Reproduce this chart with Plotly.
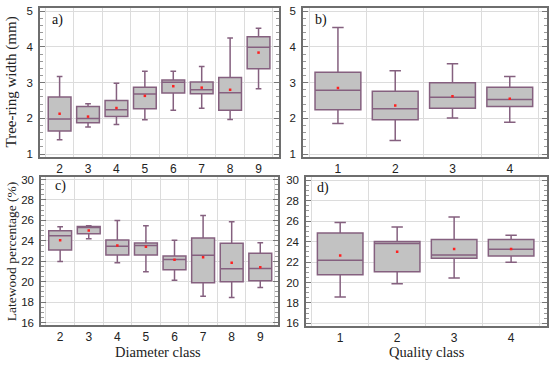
import plotly.graph_objects as go

# ---- data ----
diam_classes = [2, 3, 4, 5, 6, 7, 8, 9]
qual_classes = [1, 2, 3, 4]

# a) tree-ring width by diameter class (mm)
a_low = [1.40, 1.76, 1.83, 1.96, 2.23, 2.28, 1.97, 2.83]
a_q1 = [1.65, 1.88, 2.05, 2.27, 2.71, 2.69, 2.23, 3.39]
a_med = [1.98, 2.00, 2.24, 2.68, 3.01, 2.80, 2.72, 3.99]
a_q3 = [2.60, 2.33, 2.50, 2.87, 3.07, 3.02, 3.14, 4.28]
a_up = [3.17, 2.41, 2.98, 3.32, 3.32, 3.45, 4.25, 4.52]
a_mean = [2.13, 2.05, 2.29, 2.63, 2.90, 2.86, 2.80, 3.84]

# b) tree-ring width by quality class (mm)
b_low = [1.86, 1.38, 2.01, 1.89]
b_q1 = [2.24, 1.96, 2.28, 2.33]
b_med = [2.79, 2.27, 2.59, 2.53]
b_q3 = [3.29, 2.76, 3.00, 2.87]
b_up = [4.54, 3.33, 3.53, 3.17]
b_mean = [2.85, 2.36, 2.62, 2.55]

# c) latewood percentage by diameter class (%)
c_low = [21.97, 24.21, 21.84, 20.97, 20.13, 18.58, 18.45, 19.42]
c_q1 = [23.11, 24.69, 22.62, 22.62, 21.17, 19.90, 20.00, 20.10]
c_med = [24.50, 25.34, 23.46, 23.53, 22.17, 22.59, 21.26, 21.29]
c_q3 = [24.98, 25.40, 24.08, 23.79, 22.52, 24.27, 23.75, 22.78]
c_up = [25.37, 25.47, 25.99, 25.47, 24.05, 26.47, 25.86, 23.82]
c_mean = [24.05, 25.02, 23.53, 23.43, 22.14, 22.39, 21.84, 21.42]

# d) latewood percentage by quality class (%)
d_low = [18.59, 19.87, 20.45, 21.99]
d_q1 = [20.77, 21.06, 22.37, 22.60]
d_med = [22.18, 23.81, 22.69, 23.24]
d_q3 = [24.84, 24.00, 24.20, 24.20]
d_up = [25.87, 25.42, 26.41, 24.62]
d_mean = [22.63, 23.01, 23.27, 23.27]

panel_labels = ["a)", "b)", "c)", "d)"]
y_titles = ["Tree-ring width (mm)", "Latewood percentage (%)"]
x_titles = ["Diameter class", "Quality class"]

# ---- style ----
W, H = 550, 366
BOX_FILL = "#c2c2c2"
BOX_LINE = "#85607f"
GRID = "#dcdcdc"
FRAME = "#6e6e6e"
SERIF = "Liberation Serif, Times New Roman, serif"
SANS = "Liberation Sans, Arial, sans-serif"

def px_dom_x(a, b):
    return [a / W, b / W]

def px_dom_y(top, bottom):
    return [1 - bottom / H, 1 - top / H]

panels = [
    dict(cats=diam_classes, low=a_low, q1=a_q1, med=a_med, q3=a_q3, up=a_up, mean=a_mean,
         xd=px_dom_x(40, 279), yd=px_dom_y(5, 157), xr=[1.31, 9.72], yr=[0.92, 5.09],
         dtick=1, minor=0.2),
    dict(cats=qual_classes, low=b_low, q1=b_q1, med=b_med, q3=b_q3, up=b_up, mean=b_mean,
         xd=px_dom_x(303, 547), yd=px_dom_y(5, 157), xr=[0.39, 4.65], yr=[0.92, 5.09],
         dtick=1, minor=0.2),
    dict(cats=diam_classes, low=c_low, q1=c_q1, med=c_med, q3=c_q3, up=c_up, mean=c_mean,
         xd=px_dom_x(41, 278), yd=px_dom_y(177, 328), xr=[1.33, 9.62], yr=[15.78, 30.29],
         dtick=2, minor=0.5),
    dict(cats=qual_classes, low=d_low, q1=d_q1, med=d_med, q3=d_q3, up=d_up, mean=d_mean,
         xd=px_dom_x(306, 547), yd=px_dom_y(177, 329), xr=[0.40, 4.63], yr=[15.78, 30.35],
         dtick=2, minor=0.5),
]

fig = go.Figure()
layout = {}
for i, p in enumerate(panels):
    n = "" if i == 0 else str(i + 1)
    xa, ya = "x" + n, "y" + n
    fig.add_trace(go.Box(
        x=p["cats"], q1=p["q1"], median=p["med"], q3=p["q3"],
        lowerfence=p["low"], upperfence=p["up"],
        width=0.8, whiskerwidth=0.25, fillcolor=BOX_FILL,
        line=dict(color=BOX_LINE, width=1.5), boxpoints=False,
        xaxis=xa, yaxis=ya, showlegend=False, hoverinfo="skip"))
    fig.add_trace(go.Scatter(
        x=p["cats"], y=p["mean"], mode="markers",
        marker=dict(color="#ff2020", size=2.5, symbol="square"),
        xaxis=xa, yaxis=ya, showlegend=False, hoverinfo="skip"))
    halfs = [c - 0.5 for c in p["cats"]] + [p["cats"][-1] + 0.5]
    layout["xaxis" + n] = dict(
        domain=p["xd"], range=p["xr"], anchor=ya,
        tickmode="array", tickvals=p["cats"], ticktext=[str(c) for c in p["cats"]],
        showgrid=False, zeroline=False, ticks="", ticklen=0,
        showline=True, mirror=True, linecolor=FRAME, linewidth=1.5,
        tickfont=dict(family=SANS, size=12, color="#222"),
        minor=dict(tickmode="array", tickvals=halfs, showgrid=True,
                   gridcolor=GRID, gridwidth=1, ticks=""),
    )
    layout["yaxis" + n] = dict(
        domain=p["yd"], range=p["yr"], anchor=xa,
        dtick=p["dtick"], tick0=0,
        showgrid=True, gridcolor=GRID, gridwidth=1, zeroline=False,
        ticks="inside", ticklen=5, tickcolor="#777", tickwidth=1,
        showline=True, mirror="allticks", linecolor=FRAME, linewidth=1.5,
        tickfont=dict(family=SANS, size=11.5, color="#222"),
        ticklabelstandoff=3,
        minor=dict(dtick=p["minor"], ticks="inside", ticklen=3,
                   tickcolor="#999", showgrid=False),
    )

annotations = []
label_pos = [(50, 17), (313, 17), (53, 187), (315, 189)]
for lab, (x, y) in zip(panel_labels, label_pos):
    annotations.append(dict(text=lab, x=x / W, y=1 - y / H, xref="paper", yref="paper",
                            xanchor="left", yanchor="middle", showarrow=False,
                            font=dict(family=SERIF, size=14, color="#111")))
annotations.append(dict(text=y_titles[0], x=11 / W, y=1 - 81 / H, xref="paper", yref="paper",
                        textangle=-90, showarrow=False, xanchor="center", yanchor="middle",
                        font=dict(family=SERIF, size=15, color="#222")))
annotations.append(dict(text=y_titles[1], x=11 / W, y=1 - 254 / H, xref="paper", yref="paper",
                        textangle=-90, showarrow=False, xanchor="center", yanchor="middle",
                        font=dict(family=SERIF, size=13.5, color="#222")))
annotations.append(dict(text=x_titles[0], x=158 / W, y=1 - 356 / H, xref="paper", yref="paper",
                        showarrow=False, xanchor="center", yanchor="middle",
                        font=dict(family=SERIF, size=14.5, color="#222")))
annotations.append(dict(text=x_titles[1], x=427 / W, y=1 - 356 / H, xref="paper", yref="paper",
                        showarrow=False, xanchor="center", yanchor="middle",
                        font=dict(family=SERIF, size=14.5, color="#222")))

fig.update_layout(
    width=W, height=H,
    margin=dict(l=0, r=0, t=0, b=0),
    paper_bgcolor="white", plot_bgcolor="white",
    annotations=annotations,
    **layout,
)

fig.write_html("out.html", config={"displayModeBar": False},
               post_script="document.body.style.margin='0px';")
